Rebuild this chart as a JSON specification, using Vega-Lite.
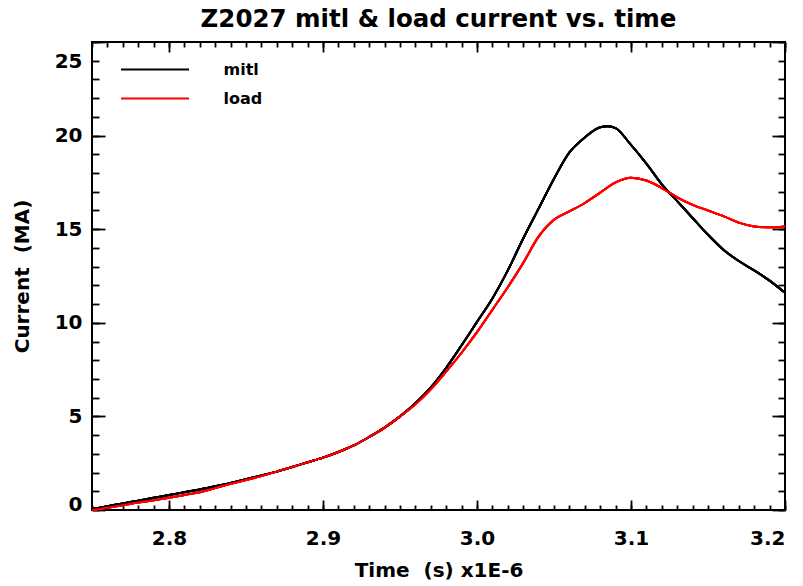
{
  "$schema": "https://vega.github.io/schema/vega-lite/v6.json",
  "width": 693,
  "height": 468,
  "autosize": "none",
  "padding": {"left": 92, "top": 42, "right": 18, "bottom": 76},
  "background": "white",
  "title": {"text": "Z2027 mitl & load current vs. time", "font": "DejaVu Sans", "fontSize": 24.5, "fontWeight": "bold", "color": "black", "offset": 9, "anchor": "middle"},
  "config": {
    "view": {"stroke": "black", "strokeWidth": 2},
    "axis": {"labelFont": "DejaVu Sans", "labelFontSize": 20, "labelFontWeight": "bold", "labelColor": "black", "titleFont": "DejaVu Sans", "titleFontSize": 20, "titleFontWeight": "bold", "titleColor": "black"}
  },
  "datasets": {
    "c": [
      {"t": 2.75, "I": 0.05, "series": "mitl"},
      {"t": 2.76, "I": 0.2, "series": "mitl"},
      {"t": 2.77, "I": 0.35, "series": "mitl"},
      {"t": 2.78, "I": 0.5, "series": "mitl"},
      {"t": 2.79, "I": 0.65, "series": "mitl"},
      {"t": 2.8, "I": 0.8, "series": "mitl"},
      {"t": 2.81, "I": 0.95, "series": "mitl"},
      {"t": 2.82, "I": 1.1, "series": "mitl"},
      {"t": 2.83, "I": 1.27, "series": "mitl"},
      {"t": 2.84, "I": 1.45, "series": "mitl"},
      {"t": 2.85, "I": 1.65, "series": "mitl"},
      {"t": 2.86, "I": 1.85, "series": "mitl"},
      {"t": 2.87, "I": 2.05, "series": "mitl"},
      {"t": 2.88, "I": 2.3, "series": "mitl"},
      {"t": 2.89, "I": 2.55, "series": "mitl"},
      {"t": 2.9, "I": 2.8, "series": "mitl"},
      {"t": 2.91, "I": 3.1, "series": "mitl"},
      {"t": 2.92, "I": 3.45, "series": "mitl"},
      {"t": 2.93, "I": 3.9, "series": "mitl"},
      {"t": 2.94, "I": 4.4, "series": "mitl"},
      {"t": 2.95, "I": 5.0, "series": "mitl"},
      {"t": 2.96, "I": 5.7, "series": "mitl"},
      {"t": 2.97, "I": 6.55, "series": "mitl"},
      {"t": 2.98, "I": 7.6, "series": "mitl"},
      {"t": 2.99, "I": 8.8, "series": "mitl"},
      {"t": 3.0, "I": 10.05, "series": "mitl"},
      {"t": 3.01, "I": 11.3, "series": "mitl"},
      {"t": 3.02, "I": 12.8, "series": "mitl"},
      {"t": 3.03, "I": 14.5, "series": "mitl"},
      {"t": 3.04, "I": 16.1, "series": "mitl"},
      {"t": 3.05, "I": 17.7, "series": "mitl"},
      {"t": 3.06, "I": 19.1, "series": "mitl"},
      {"t": 3.07, "I": 19.9, "series": "mitl"},
      {"t": 3.08, "I": 20.45, "series": "mitl"},
      {"t": 3.085, "I": 20.5, "series": "mitl"},
      {"t": 3.09, "I": 20.4, "series": "mitl"},
      {"t": 3.1, "I": 19.5, "series": "mitl"},
      {"t": 3.11, "I": 18.5, "series": "mitl"},
      {"t": 3.12, "I": 17.4, "series": "mitl"},
      {"t": 3.13, "I": 16.5, "series": "mitl"},
      {"t": 3.14, "I": 15.6, "series": "mitl"},
      {"t": 3.15, "I": 14.7, "series": "mitl"},
      {"t": 3.16, "I": 13.9, "series": "mitl"},
      {"t": 3.17, "I": 13.3, "series": "mitl"},
      {"t": 3.18, "I": 12.8, "series": "mitl"},
      {"t": 3.19, "I": 12.25, "series": "mitl"},
      {"t": 3.2, "I": 11.6, "series": "mitl"},
      {"t": 2.75, "I": 0.0, "series": "load"},
      {"t": 2.76, "I": 0.12, "series": "load"},
      {"t": 2.77, "I": 0.25, "series": "load"},
      {"t": 2.78, "I": 0.4, "series": "load"},
      {"t": 2.79, "I": 0.52, "series": "load"},
      {"t": 2.8, "I": 0.65, "series": "load"},
      {"t": 2.81, "I": 0.8, "series": "load"},
      {"t": 2.82, "I": 0.95, "series": "load"},
      {"t": 2.83, "I": 1.17, "series": "load"},
      {"t": 2.84, "I": 1.4, "series": "load"},
      {"t": 2.85, "I": 1.6, "series": "load"},
      {"t": 2.86, "I": 1.82, "series": "load"},
      {"t": 2.87, "I": 2.05, "series": "load"},
      {"t": 2.88, "I": 2.3, "series": "load"},
      {"t": 2.89, "I": 2.55, "series": "load"},
      {"t": 2.9, "I": 2.8, "series": "load"},
      {"t": 2.91, "I": 3.1, "series": "load"},
      {"t": 2.92, "I": 3.45, "series": "load"},
      {"t": 2.93, "I": 3.9, "series": "load"},
      {"t": 2.94, "I": 4.4, "series": "load"},
      {"t": 2.95, "I": 5.0, "series": "load"},
      {"t": 2.96, "I": 5.65, "series": "load"},
      {"t": 2.97, "I": 6.45, "series": "load"},
      {"t": 2.98, "I": 7.4, "series": "load"},
      {"t": 2.99, "I": 8.4, "series": "load"},
      {"t": 3.0, "I": 9.5, "series": "load"},
      {"t": 3.01, "I": 10.7, "series": "load"},
      {"t": 3.02, "I": 11.9, "series": "load"},
      {"t": 3.03, "I": 13.2, "series": "load"},
      {"t": 3.04, "I": 14.6, "series": "load"},
      {"t": 3.05, "I": 15.5, "series": "load"},
      {"t": 3.06, "I": 15.95, "series": "load"},
      {"t": 3.07, "I": 16.4, "series": "load"},
      {"t": 3.08, "I": 16.95, "series": "load"},
      {"t": 3.09, "I": 17.5, "series": "load"},
      {"t": 3.1, "I": 17.75, "series": "load"},
      {"t": 3.11, "I": 17.6, "series": "load"},
      {"t": 3.12, "I": 17.2, "series": "load"},
      {"t": 3.13, "I": 16.7, "series": "load"},
      {"t": 3.14, "I": 16.3, "series": "load"},
      {"t": 3.15, "I": 16.0, "series": "load"},
      {"t": 3.16, "I": 15.7, "series": "load"},
      {"t": 3.17, "I": 15.35, "series": "load"},
      {"t": 3.18, "I": 15.15, "series": "load"},
      {"t": 3.19, "I": 15.1, "series": "load"},
      {"t": 3.2, "I": 15.15, "series": "load"}
    ]
  },
  "data": {"name": "c"},
  "layer": [
    {
      "mark": {"type": "line", "interpolate": "monotone", "strokeWidth": 2},
      "encoding": {
        "x": {"field": "t", "type": "quantitative", "scale": {"domain": [2.75, 3.2], "nice": false, "zero": false},
          "axis": {"orient": "bottom", "values": [2.8, 2.9, 3.0, 3.1, 3.2], "format": ".1f", "ticks": false, "tickSize": 0, "domain": false, "grid": false, "labelPadding": 18, "title": "Time\u00a0 (s) x1E-6", "titlePadding": 12}},
        "y": {"field": "I", "type": "quantitative", "scale": {"domain": [0, 25], "nice": false},
          "axis": {"orient": "left", "values": [0, 5, 10, 15, 20, 25], "format": "d", "ticks": false, "tickSize": 0, "domain": false, "grid": false, "labelPadding": 10, "title": "Current\u00a0 (MA)", "titlePadding": 22,
            "labelOffset": {"condition": [{"test": "datum.value == 25", "value": 19}, {"test": "datum.value == 0", "value": -6}], "value": 0}}},
        "color": {"field": "series", "type": "nominal", "scale": {"domain": ["mitl", "load"], "range": ["black", "#ff0000"]},
          "legend": {"title": null, "orient": "none", "legendX": 53.5, "legendY": 18, "symbolType": "M-4,0L4,0", "symbolSize": 289, "symbolStrokeWidth": 2, "labelFont": "DejaVu Sans", "labelFontSize": 16, "labelFontWeight": "bold", "labelColor": "black", "labelOffset": 59, "rowPadding": 11, "padding": 0}}
      }
    },
    {
      "mark": {"type": "line", "interpolate": "monotone", "strokeWidth": 2},
      "encoding": {
        "x": {"field": "t", "type": "quantitative",
          "axis": {"orient": "bottom", "title": null, "labels": false, "ticks": true, "grid": false, "domainOpacity": 0, "tickColor": "black", "tickWidth": 1.8, "tickSize": 5, "offset": -5, "values": [2.75,2.76,2.77,2.78,2.79,2.8,2.81,2.82,2.83,2.84,2.85,2.86,2.87,2.88,2.89,2.9,2.91,2.92,2.93,2.94,2.95,2.96,2.97,2.98,2.99,3.0,3.01,3.02,3.03,3.04,3.05,3.06,3.07,3.08,3.09,3.1,3.11,3.12,3.13,3.14,3.15,3.16,3.17,3.18,3.19,3.2]}},
        "y": {"field": "I", "type": "quantitative",
          "axis": {"orient": "left", "title": null, "labels": false, "ticks": true, "grid": false, "domainOpacity": 0, "tickColor": "black", "tickWidth": 1.8, "tickSize": 7, "offset": -7, "values": [0,1,2,3,4,5,6,7,8,9,10,11,12,13,14,15,16,17,18,19,20,21,22,23,24,25]}},
        "color": {"field": "series", "type": "nominal", "legend": null}
      }
    },
    {
      "mark": {"type": "line", "interpolate": "monotone", "strokeWidth": 2},
      "encoding": {
        "x": {"field": "t", "type": "quantitative",
          "axis": {"orient": "bottom", "title": null, "labels": false, "ticks": true, "grid": false, "domainOpacity": 0, "tickColor": "black", "tickWidth": 1.8, "tickSize": 10, "offset": -10, "values": [2.8, 2.9, 3.0, 3.1, 3.2]}},
        "y": {"field": "I", "type": "quantitative",
          "axis": {"orient": "left", "title": null, "labels": false, "ticks": true, "grid": false, "domainOpacity": 0, "tickColor": "black", "tickWidth": 1.8, "tickSize": 13, "offset": -13, "values": [0, 5, 10, 15, 20, 25]}},
        "color": {"field": "series", "type": "nominal", "legend": null}
      }
    },
    {
      "mark": {"type": "line", "interpolate": "monotone", "strokeWidth": 2},
      "encoding": {
        "x": {"field": "t", "type": "quantitative",
          "axis": {"orient": "top", "title": null, "labels": false, "ticks": true, "grid": false, "domainOpacity": 0, "tickColor": "black", "tickWidth": 1.8, "tickSize": 5, "offset": -5, "values": [2.75,2.76,2.77,2.78,2.79,2.8,2.81,2.82,2.83,2.84,2.85,2.86,2.87,2.88,2.89,2.9,2.91,2.92,2.93,2.94,2.95,2.96,2.97,2.98,2.99,3.0,3.01,3.02,3.03,3.04,3.05,3.06,3.07,3.08,3.09,3.1,3.11,3.12,3.13,3.14,3.15,3.16,3.17,3.18,3.19,3.2]}},
        "y": {"field": "I", "type": "quantitative",
          "axis": {"orient": "right", "title": null, "labels": false, "ticks": true, "grid": false, "domainOpacity": 0, "tickColor": "black", "tickWidth": 1.8, "tickSize": 7, "offset": -7, "values": [0,1,2,3,4,5,6,7,8,9,10,11,12,13,14,15,16,17,18,19,20,21,22,23,24,25]}},
        "color": {"field": "series", "type": "nominal", "legend": null}
      }
    },
    {
      "mark": {"type": "line", "interpolate": "monotone", "strokeWidth": 2},
      "encoding": {
        "x": {"field": "t", "type": "quantitative",
          "axis": {"orient": "top", "title": null, "labels": false, "ticks": true, "grid": false, "domainOpacity": 0, "tickColor": "black", "tickWidth": 1.8, "tickSize": 10, "offset": -10, "values": [2.8, 2.9, 3.0, 3.1, 3.2]}},
        "y": {"field": "I", "type": "quantitative",
          "axis": {"orient": "right", "title": null, "labels": false, "ticks": true, "grid": false, "domainOpacity": 0, "tickColor": "black", "tickWidth": 1.8, "tickSize": 13, "offset": -13, "values": [0, 5, 10, 15, 20, 25]}},
        "color": {"field": "series", "type": "nominal", "legend": null}
      }
    }
  ],
  "resolve": {"axis": {"x": "independent", "y": "independent"}}
}
